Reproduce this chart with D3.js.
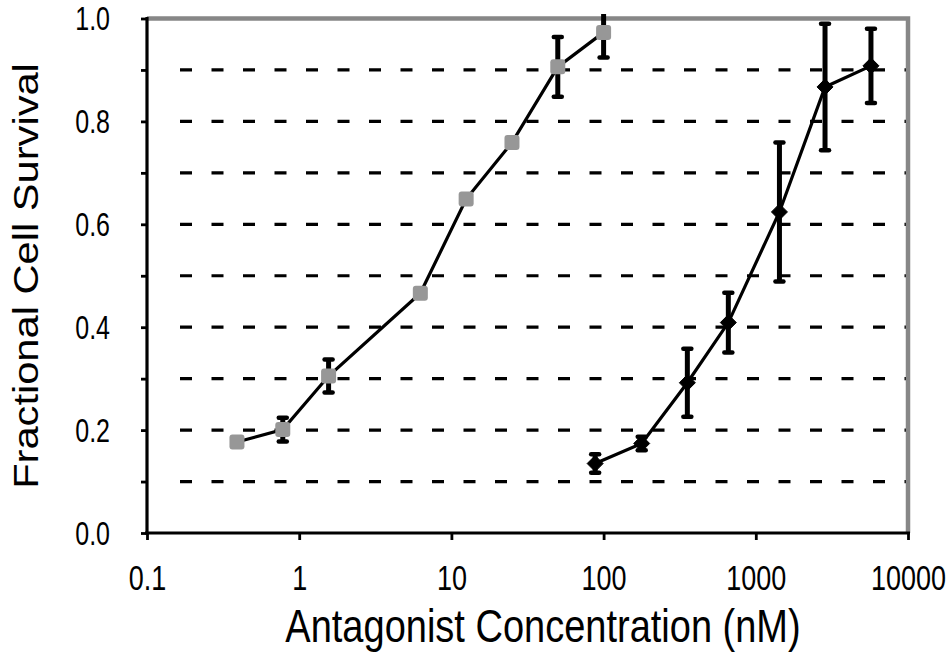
<!DOCTYPE html>
<html>
<head>
<meta charset="utf-8">
<script src="https://cdn.jsdelivr.net/npm/d3@7"></script>
<style>
  html, body { margin: 0; padding: 0; background: #fff; }
  svg { display: block; font-family: "Liberation Sans", Arial, sans-serif; }
</style>
</head>
<body>
<svg id="chart" width="949" height="658"></svg>
<script>
// Reference compound (gray squares): concentration in nM, survival, error
const refConc = [0.39, 0.78, 1.56, 6.25, 12.5, 25, 50, 100];
const refSurvival = [0.177, 0.201, 0.305, 0.466, 0.649, 0.759, 0.906, 0.973];
const refError = [0, 0.023, 0.032, 0, 0, 0, 0.058, 0.049];

// Test compound (black diamonds)
const testConc = [88, 178, 355, 660, 1430, 2850, 5710];
const testSurvival = [0.135, 0.174, 0.292, 0.409, 0.624, 0.867, 0.908];
const testError = [0.018, 0.013, 0.066, 0.058, 0.135, 0.123, 0.072];

const xTicks = [0.1, 1, 10, 100, 1000, 10000];
const xTickLabels = ["0.1", "1", "10", "100", "1000", "10000"];
const yTicks = [0, 0.2, 0.4, 0.6, 0.8, 1.0];
const yMinorTicks = [0, 0.1, 0.2, 0.3, 0.4, 0.5, 0.6, 0.7, 0.8, 0.9, 1.0];
const gridValues = [0.1, 0.2, 0.3, 0.4, 0.5, 0.6, 0.7, 0.8, 0.9];

const svg = d3.select("#chart");
const plotLeft = 147, plotRight = 908, plotTop = 18.5, plotBottom = 533;
const textStretch = 1.3;   // tick labels are drawn taller than wide

const x = d3.scaleLog().domain([0.1, 10000]).range([plotLeft, plotRight]);
const y = d3.scaleLinear().domain([0, 1]).range([plotBottom, plotTop]);

// dashed horizontal grid
svg.append("g").selectAll("line").data(gridValues).join("line")
  .attr("x1", 180).attr("x2", plotRight - 2)
  .attr("y1", d => y(d)).attr("y2", d => y(d))
  .attr("stroke", "#000").attr("stroke-width", 3.2)
  .attr("stroke-dasharray", "12 19.5");

// gray frame on top and right
svg.append("path")
  .attr("d", `M${plotLeft},${plotTop} H${plotRight} V${plotBottom}`)
  .attr("fill", "none").attr("stroke", "#878787").attr("stroke-width", 4.5);

// y axis
const yAxis = d3.axisLeft(y).tickValues(yMinorTicks).tickSize(6)
  .tickFormat(d => yTicks.some(t => Math.abs(t - d) < 1e-9) ? d3.format(".1f")(d) : "");
const gy = svg.append("g").attr("transform", `translate(${plotLeft},0)`).call(yAxis);
gy.select(".domain").attr("stroke", "#000").attr("stroke-width", 3.2)
  .attr("d", `M0,${plotTop - 1.5}V${plotBottom + 1.5}`);
gy.selectAll(".tick line").attr("stroke", "#000").attr("stroke-width", 2.8);
gy.selectAll(".tick text").attr("x", -37).attr("dy", "0.35em").attr("font-size", 25)
  .attr("transform", `scale(1,${textStretch})`)
  .attr("fill", "#000").attr("font-family", "Liberation Sans, Arial, sans-serif");

// x axis
const xAxis = d3.axisBottom(x).tickValues(xTicks).tickSize(7)
  .tickFormat((d, i) => xTickLabels[i]);
const gx = svg.append("g").attr("transform", `translate(0,${plotBottom})`).call(xAxis);
gx.select(".domain").attr("stroke", "#000").attr("stroke-width", 3.2)
  .attr("d", `M${plotLeft - 2},0H${plotRight + 2}`);
gx.selectAll(".tick line").attr("stroke", "#000").attr("stroke-width", 2.8);
gx.selectAll(".tick text").attr("y", 57 / textStretch).attr("dy", 0).attr("font-size", 27)
  .attr("transform", `scale(1,${textStretch})`)
  .attr("fill", "#000").attr("font-family", "Liberation Sans, Arial, sans-serif");

// axis titles
svg.append("text")
  .attr("transform", `translate(543,642) scale(1,1.2)`)
  .attr("text-anchor", "middle").attr("font-size", 38)
  .text("Antagonist Concentration (nM)");
svg.append("text")
  .attr("transform", `translate(38,276) rotate(-90) scale(1.19,1)`)
  .attr("text-anchor", "middle").attr("font-size", 35)
  .text("Fractional Cell Survival");

const line = d3.line().x(d => x(d[0])).y(d => y(d[1]));

function drawSeries(conc, surv, err, kind) {
  const pts = conc.map((c, i) => [c, surv[i], err[i]]);
  const g = svg.append("g");
  g.append("path").datum(pts).attr("d", line)
    .attr("fill", "none").attr("stroke", "#000").attr("stroke-width", 3.2);

  const eb = g.append("g").attr("clip-path", "url(#ebclip)");
  const withErr = pts.filter(p => p[2] > 0);
  eb.selectAll("line.bar").data(withErr).join("line").attr("class", "bar")
    .attr("x1", d => x(d[0])).attr("x2", d => x(d[0]))
    .attr("y1", d => y(d[1] + d[2])).attr("y2", d => y(d[1] - d[2]))
    .attr("stroke", "#000").attr("stroke-width", 5);
  ["+", "-"].forEach(sgn => {
    const cls = sgn === "+" ? "capu" : "capd";
    eb.selectAll("line." + cls).data(withErr).join("line")
      .attr("class", cls)
      .attr("x1", d => x(d[0]) - 4).attr("x2", d => x(d[0]) + 4)
      .attr("y1", d => y(sgn === "+" ? d[1] + d[2] : d[1] - d[2]))
      .attr("y2", d => y(sgn === "+" ? d[1] + d[2] : d[1] - d[2]))
      .attr("stroke", "#000").attr("stroke-width", 4.5).attr("stroke-linecap", "round");
  });

  if (kind === "square") {
    g.selectAll("rect").data(pts).join("rect")
      .attr("x", d => x(d[0]) - 7.5).attr("y", d => y(d[1]) - 7.5)
      .attr("width", 15).attr("height", 15).attr("rx", 3)
      .attr("fill", "#979797");
  } else {
    g.selectAll("path.mk").data(pts).join("path").attr("class", "mk")
      .attr("d", d => {
        const cx = x(d[0]), cy = y(d[1]), r = 8;
        return `M${cx},${cy - r}L${cx + r},${cy}L${cx},${cy + r}L${cx - r},${cy}Z`;
      })
      .attr("fill", "#000").attr("stroke", "#000").attr("stroke-width", 1)
      .attr("stroke-linejoin", "round");
  }
}

svg.append("defs").append("clipPath").attr("id", "ebclip")
  .append("rect").attr("x", 0).attr("y", 14).attr("width", 949).attr("height", 644);

drawSeries(refConc, refSurvival, refError, "square");
drawSeries(testConc, testSurvival, testError, "diamond");
</script>
</body>
</html>
